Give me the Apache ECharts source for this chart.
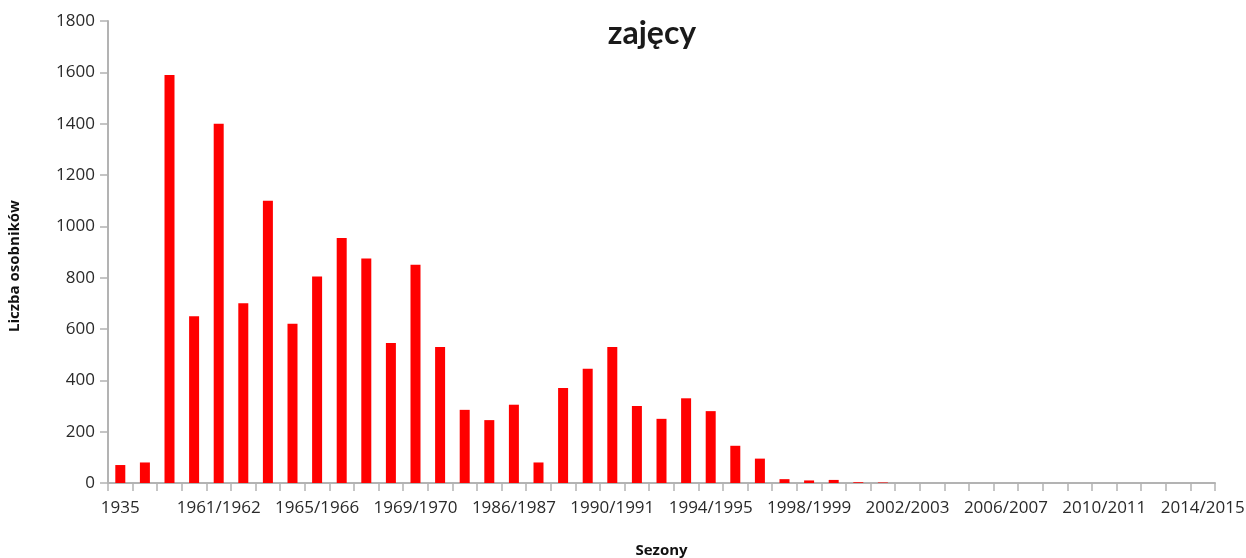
<!DOCTYPE html>
<html>
<head>
<meta charset="utf-8">
<script src="https://cdn.jsdelivr.net/npm/echarts@6/dist/echarts.min.js"></script>
<style>
  html, body { margin: 0; padding: 0; background: #fff; }
  #main { width: 1246px; height: 558px; }
</style>
</head>
<body>
<div id="main"></div>
<script>
// sezony (kategorie osi X)
var sezony = [
  '1935', '1938', '1959/1960', '1960/1961', '1961/1962', '1962/1963', '1963/1964', '1964/1965',
  '1965/1966', '1966/1967', '1967/1968', '1968/1969', '1969/1970', '1970/1971', '1980/1981', '1985/1986',
  '1986/1987', '1987/1988', '1988/1989', '1989/1990', '1990/1991', '1991/1992', '1992/1993', '1993/1994',
  '1994/1995', '1995/1996', '1996/1997', '1997/1998', '1998/1999', '1999/2000', '2000/2001', '2001/2002',
  '2002/2003', '2003/2004', '2004/2005', '2005/2006', '2006/2007', '2007/2008', '2008/2009', '2009/2010',
  '2010/2011', '2011/2012', '2012/2013', '2013/2014', '2014/2015'
];
// liczba osobników
var zajace = [
  70, 80, 1590, 650, 1400, 700, 1100, 620,
  805, 955, 875, 545, 850, 530, 285, 245,
  305, 80, 370, 445, 530, 300, 250, 330,
  280, 145, 95, 15, 10, 12, 3, 2,
  0, 0, 0, 0, 0, 0, 0, 0,
  0, 0, 0, 0, 0
];

var myChart = echarts.init(document.getElementById('main'));
myChart.setOption({
  animation: false,
  title: {
    text: 'zajęcy',
    left: 647,
    textAlign: 'center',
    top: 13,
    textStyle: { fontFamily: 'Lato', fontWeight: 'bold', fontSize: 32, color: '#1a1a1a' }
  },
  grid: { left: 108, right: 31, top: 21, bottom: 75, outerBoundsMode: 'none', containLabel: false },
  xAxis: {
    type: 'category',
    data: sezony,
    name: 'Sezony',
    nameLocation: 'middle',
    nameGap: 60,
    nameTextStyle: { fontFamily: 'Open Sans', fontWeight: 'bold', fontSize: 15, color: '#111' },
    axisLine: { show: true, lineStyle: { color: '#b3b3b3', width: 2 } },
    axisTick: { show: true, alignWithLabel: false, interval: 0, length: 8, lineStyle: { color: '#b3b3b3', width: 1.5 } },
    axisLabel: { interval: 3, margin: 17, fontFamily: 'Open Sans', fontSize: 17, color: '#2a2a2a' },
    splitLine: { show: false }
  },
  yAxis: {
    type: 'value',
    min: 0,
    max: 1800,
    interval: 200,
    name: 'Liczba osobników',
    nameLocation: 'middle',
    nameGap: 86,
    nameRotate: 90,
    nameTextStyle: { fontFamily: 'Open Sans', fontWeight: 'bold', fontSize: 15, color: '#111', padding: [0, 28, 0, 0] },
    axisLine: { show: true, lineStyle: { color: '#b3b3b3', width: 2 } },
    axisTick: { show: true, inside: false, length: 8, lineStyle: { color: '#b3b3b3', width: 1.5 } },
    axisLabel: {
      margin: 13, fontFamily: 'Open Sans', fontSize: 17, color: '#2a2a2a',
      formatter: function (v) { return String(v); }
    },
    splitLine: { show: false }
  },
  series: [{
    type: 'bar',
    data: zajace,
    barWidth: 10,
    itemStyle: { color: '#ff0000' }
  }]
});
</script>
</body>
</html>
